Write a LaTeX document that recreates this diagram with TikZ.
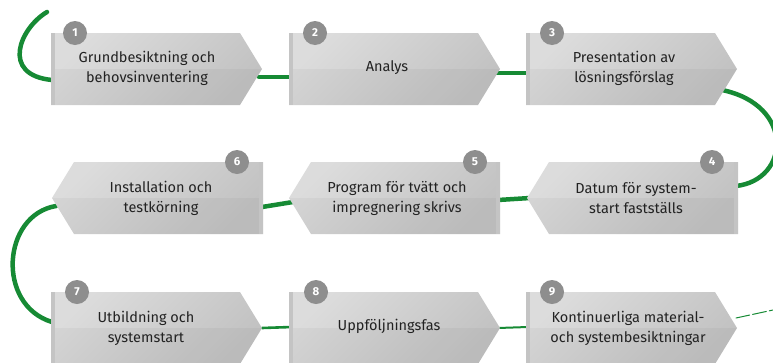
\documentclass[tikz,border=0pt]{standalone}
\usepackage{fontspec}
\setmainfont{Fira Sans}
\definecolor{bxl}{HTML}{DCDCDC}
\definecolor{bxr}{HTML}{C2C2C2}
\definecolor{strip}{HTML}{C4C4C4}
\definecolor{numgray}{HTML}{8E8E8E}
\definecolor{grn}{RGB}{22,138,52}
\definecolor{txt}{HTML}{222222}
\newcommand\rboxshape[2]{% right-pointing: x0, y0
  \shade[boxshade] (#1,#2) -- ({#1+189},#2) -- ({#1+211},{#2+36}) -- ({#1+189},{#2+72}) -- (#1,{#2+72}) -- cycle;
  \fill[lowhalf] (#1,{#2+36}) -- ({#1+211},{#2+36}) -- ({#1+189},{#2+72}) -- (#1,{#2+72}) -- cycle;
  \fill[strip] (#1,#2) rectangle ({#1+4},{#2+72});
}
\newcommand\lboxshape[2]{% left-pointing: x0 = right edge, y0
  \shade[boxshade] (#1,#2) -- ({#1-189},#2) -- ({#1-211},{#2+36}) -- ({#1-189},{#2+72}) -- (#1,{#2+72}) -- cycle;
  \fill[lowhalf] (#1,{#2+36}) -- ({#1-211},{#2+36}) -- ({#1-189},{#2+72}) -- (#1,{#2+72}) -- cycle;
  \fill[strip] ({#1-4},#2) rectangle (#1,{#2+72});
}
\begin{document}
\begin{tikzpicture}[x=1pt,y=-1pt,
  boxshade/.style={top color=bxl, bottom color=bxr, shading angle=45},
  lowhalf/.style={fill=black, fill opacity=0.035},
  numcirc/.style={circle, fill=numgray, minimum size=24pt, inner sep=0pt, text=white, font=\bfseries\fontsize{11.5}{11.5}\selectfont},
  boxtext/.style={align=center, text=txt, font=\fontsize{14.5}{20}\selectfont, inner sep=0pt},
  greenline/.style={draw=grn, line width=4.5pt, line cap=round},
  thingreen/.style={draw=grn, line width=2pt, line cap=round}]
\useasboundingbox (0,0) rectangle (773,362);

% connection points
\coordinate (s0) at (47,12);
\coordinate (b1in) at (52,80);
\coordinate (b1out) at (259,77);
\coordinate (b2in) at (292,77);
\coordinate (b2out) at (496,73);
\coordinate (b3in) at (529,73);
\coordinate (b3out) at (722,90);
\coordinate (b4in) at (736,186);
\coordinate (b4out) at (530,198);
\coordinate (b5in) at (498,200);
\coordinate (b5out) at (293,202);
\coordinate (b6in) at (262,207);
\coordinate (b6out) at (56,206);
\coordinate (b7in) at (52,322);
\coordinate (b7out) at (262,328);
\coordinate (b8in) at (292,327);
\coordinate (b8out) at (498,328);
\coordinate (b9in) at (528,327);
\coordinate (b9out) at (736,318);
\coordinate (eend) at (773,310);

% green connectors
\draw[greenline] (s0) .. controls (20,28) and (0,75) .. (b1in);
\draw[greenline] (b1out) -- (b2in);
\draw[greenline] (b2out) -- (b3in);
\draw[greenline] (b3out) .. controls (795,105) and (790,180) .. (b4in);
\draw[greenline] (b4out) -- (b5in);
\draw[greenline] (b5out) -- (b6in);
\draw[greenline] (b6out) .. controls (2,215) and (-4,305) .. (b7in);
\draw[thingreen, line width=2.6pt] (b7out) -- (b8in);
\draw[thingreen] (b8out) -- (b9in);
\draw[thingreen, line width=1pt, dash pattern=on 14pt off 3pt] (b9out) -- (eend);

% boxes
\rboxshape{51}{33}
\rboxshape{289}{33}
\rboxshape{526}{33}
\lboxshape{738}{162}
\lboxshape{500}{162}
\lboxshape{263}{162}
\rboxshape{51}{292}
\rboxshape{289}{292}
\rboxshape{526}{292}

% texts
\node[boxtext] (t1) at (147,68) {Grundbesiktning och\\behovsinventering};
\node[boxtext] (t2) at (387,68) {Analys};
\node[boxtext] (t3) at (624,68) {Presentation av\\lösningsförslag};
\node[boxtext] (t4) at (636,198) {Datum för system-\\start fastställs};
\node[boxtext] (t5) at (397,198) {Program för tvätt och\\impregnering skrivs};
\node[boxtext] (t6) at (161,198) {Installation och\\testkörning};
\node[boxtext] (t7) at (146,328) {Utbildning och\\systemstart};
\node[boxtext] (t8) at (389,326) {Uppföljningsfas};
\node[boxtext] (t9) at (628,328) {Kontinuerliga material-\\och systembesiktningar};

% numbers
\node[numcirc] (n1) at (75,33) {1};
\node[numcirc] (n2) at (315,33) {2};
\node[numcirc] (n3) at (552,33) {3};
\node[numcirc] (n4) at (712,162) {4};
\node[numcirc] (n5) at (475,162) {5};
\node[numcirc] (n6) at (237,162) {6};
\node[numcirc] (n7) at (77,292) {7};
\node[numcirc] (n8) at (316,292) {8};
\node[numcirc] (n9) at (552,292) {9};
\end{tikzpicture}
\end{document}
